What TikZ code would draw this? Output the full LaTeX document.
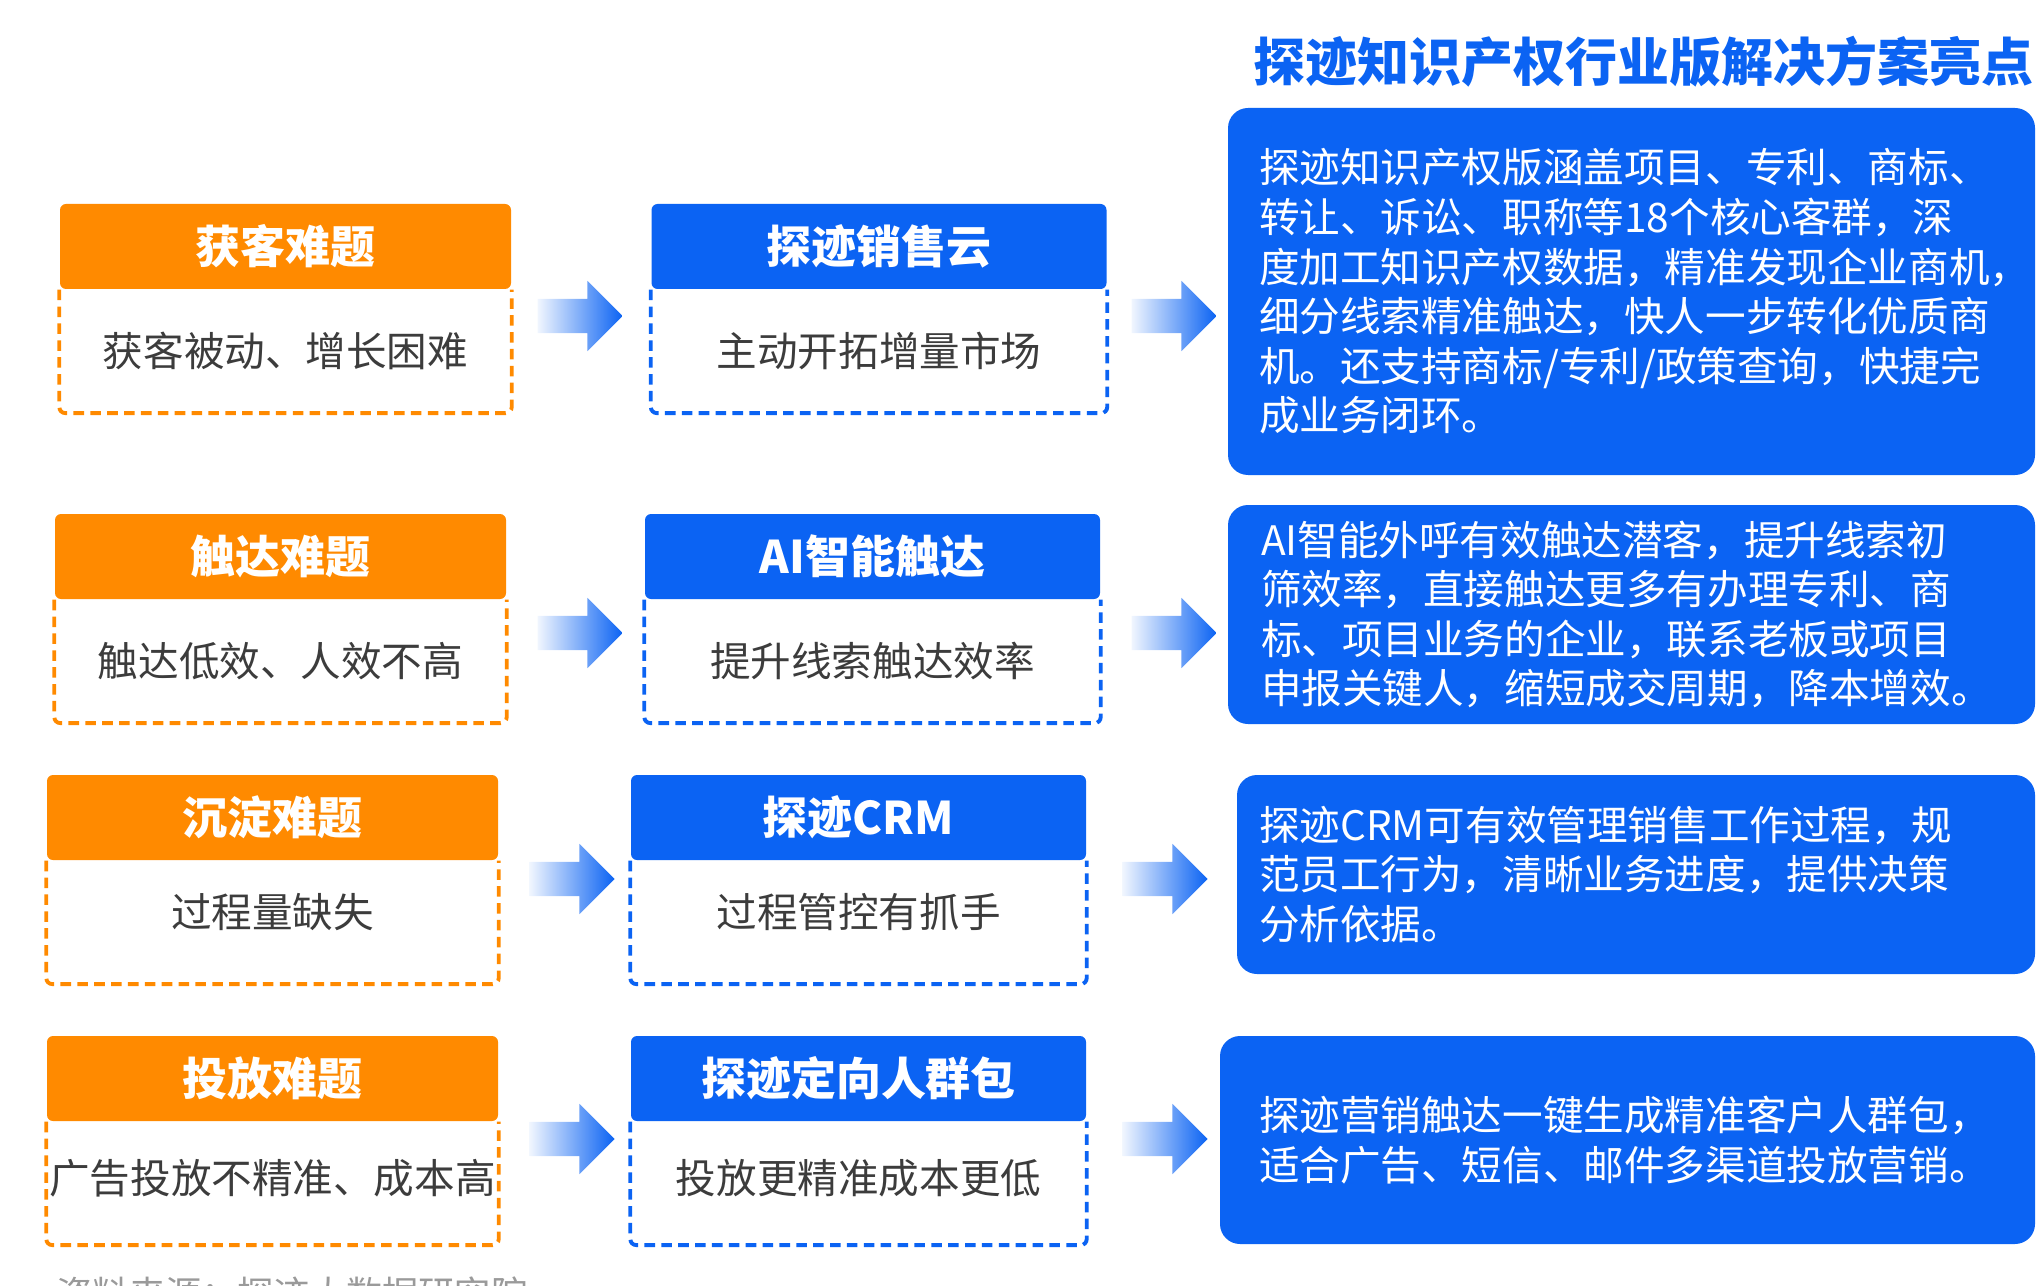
\documentclass[tikz,border=0pt]{standalone}
\usepackage{fontspec}
\setmainfont{Noto Sans CJK SC}
\usepackage{tikz}
\usetikzlibrary{positioning, shapes.arrows}
\definecolor{tgorange}{HTML}{FF8A00}
\definecolor{tgblue}{HTML}{0B63F3}
\definecolor{tggray}{HTML}{3C3C3C}
\definecolor{tgsource}{HTML}{9A9A9A}

\begin{document}
\begin{tikzpicture}[
    % GLOBAL CFG
    font=\fontsize{11.55pt}{14.1pt}\selectfont,
    % Styles
    head/.style={% For the coloured bars
        rectangle,
        rounded corners=0.6mm,
        minimum height=0.85cm,
        inner sep=0pt,
        text=white,
        font=\fontsize{12.8pt}{15pt}\selectfont\bfseries,
        },
    pbhead/.style={% problem bars
        head, fill=tgorange, minimum width=4.51cm,
        },
    sbhead/.style={% solution bars
        head, fill=tgblue, minimum width=4.55cm,
        },
    body/.style={% For the text under a bar
        rectangle,
        minimum height=1.22cm,
        inner sep=0pt,
        text=tggray,
        },
    dashbox/.style={% dashed frame round a body
        line width=1.1pt,
        dash pattern=on 3pt off 1.8pt,
        rounded corners=0.6mm,
        },
    flow/.style={% big shaded arrows
        single arrow,
        single arrow head extend=0.18cm,
        minimum height=0.85cm,
        minimum width=0.69cm,
        inner xsep=0pt,
        inner ysep=0.165cm,
        left color=tgblue!6,
        middle color=tgblue!80,
        right color=tgblue,
        },
    rbox/.style={% For the highlight boxes
        rectangle,
        rounded corners=2mm,
        fill=tgblue,
        text=white,
        align=left,
        inner ysep=0pt,
        },
    mytitle/.style={%
        text=tgblue,
        font=\fontsize{14.8pt}{17pt}\selectfont\bfseries,
        },
    ]

    \useasboundingbox (0,0) rectangle (20.39,-12.85);

    % Title
    \node[mytitle] (title) at (16.435,-0.62) {探迹知识产权行业版解决方案亮点};

    % Problem bars named ph#, bodies pb#
    \node[pbhead] (ph1) at (2.855,-2.465) {获客难题};
    \node[pbhead] (ph2) at (2.805,-5.565) {触达难题};
    \node[pbhead] (ph3) at (2.725,-8.175) {沉淀难题};
    \node[pbhead] (ph4) at (2.725,-10.785) {投放难题};
    \node[body, minimum width=4.51cm, below=0pt of ph1] (pb1) {获客被动、增长困难};
    \node[body, minimum width=4.51cm, below=0pt of ph2] (pb2) {触达低效、人效不高};
    \node[body, minimum width=4.51cm, below=0pt of ph3, text depth=0.25cm] (pb3) {过程量缺失};
    \node[body, minimum width=4.51cm, below=0pt of ph4, text depth=0.15cm] (pb4) {广告投放不精准、成本高};

    % Solution bars named sh#, bodies sb#
    \node[sbhead] (sh1) at (8.79,-2.465) {探迹销售云};
    \node[sbhead] (sh2) at (8.725,-5.565) {AI智能触达};
    \node[sbhead] (sh3) at (8.585,-8.175) {探迹CRM};
    \node[sbhead] (sh4) at (8.585,-10.785) {探迹定向人群包};
    \node[body, minimum width=4.55cm, below=0pt of sh1] (sb1) {主动开拓增量市场};
    \node[body, minimum width=4.55cm, below=0pt of sh2] (sb2) {提升线索触达效率};
    \node[body, minimum width=4.55cm, below=0pt of sh3, text depth=0.25cm] (sb3) {过程管控有抓手};
    \node[body, minimum width=4.55cm, below=0pt of sh4, text depth=0.15cm] (sb4) {投放更精准成本更低};

    % Dashed frames
    \foreach \i in {1,...,4}{
        \draw[dashbox, tgorange] (ph\i.south west) |- (pb\i.south) -| (ph\i.south east);
        \draw[dashbox, tgblue] (sh\i.south west) |- (sb\i.south) -| (sh\i.south east);
    }

    % Highlight boxes named rb#
    \node[rbox, minimum width=8.07cm, minimum height=3.67cm, inner xsep=0.31cm, text width=7.45cm] (rb1) at (16.315,-2.915) {%
        探迹知识产权版涵盖项目、专利、商标、\\
        转让、诉讼、职称等18个核心客群，深\\
        度加工知识产权数据，精准发现企业商机，\\
        细分线索精准触达，快人一步转化优质商\\
        机。还支持商标/专利/政策查询，快捷完\\
        成业务闭环。};
    \node[rbox, minimum width=8.07cm, minimum height=2.19cm, inner xsep=0.33cm, text width=7.41cm] (rb2) at (16.315,-6.145) {%
        AI智能外呼有效触达潜客，提升线索初\\
        筛效率，直接触达更多有办理专利、商\\
        标、项目业务的企业，联系老板或项目\\
        申报关键人，缩短成交周期，降本增效。};
    \node[rbox, minimum width=7.98cm, minimum height=1.99cm, inner xsep=0.22cm, text width=7.54cm] (rb3) at (16.36,-8.745) {%
        探迹CRM可有效管理销售工作过程，规\\
        范员工行为，清晰业务进度，提供决策\\
        分析依据。};
    \node[rbox, minimum width=8.15cm, minimum height=2.08cm, inner xsep=0.39cm, text width=7.37cm] (rb4) at (16.275,-11.40) {%
        探迹营销触达一键生成精准客户人群包，\\
        适合广告、短信、邮件多渠道投放营销。};

    % Arrows between the columns
    \node[flow] (fa1) at (5.715,-3.16) {};
    \node[flow] (fb1) at (11.655,-3.16) {};
    \node[flow] (fa2) at (5.715,-6.33) {};
    \node[flow] (fb2) at (11.655,-6.33) {};
    \node[flow] (fa3) at (5.635,-8.79) {};
    \node[flow] (fb3) at (11.565,-8.79) {};
    \node[flow] (fa4) at (5.635,-11.39) {};
    \node[flow] (fb4) at (11.565,-11.39) {};

    % Source, cut by the page edge as in the original
    \node[text=tgsource, font=\fontsize{10.3pt}{12pt}\selectfont, anchor=west, inner sep=0pt] (src) at (0.56,-12.94) {资料来源：探迹大数据研究院};

\end{tikzpicture}
\end{document}
